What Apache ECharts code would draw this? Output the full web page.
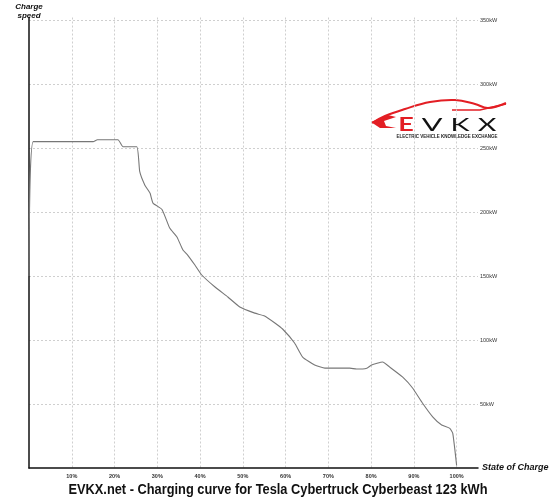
<!DOCTYPE html>
<html>
<head>
<meta charset="utf-8">
<script src="https://cdn.jsdelivr.net/npm/echarts@6/dist/echarts.min.js"></script>
<style>
  html, body { margin: 0; padding: 0; background: #fff; }
  #chart { width: 557px; height: 500px; }
</style>
</head>
<body>
<div id="chart"></div>
<script>
// state of charge (%) and charge power (kW)
var soc = [0, 1, 15, 16, 20.8, 22, 25.2, 25.9, 27.1, 28.3, 29, 31.1, 32.9, 34.6, 36, 37.1,
    38.8, 40.4, 43.5, 46.5, 49.3, 52.8, 55.1, 57.5, 59.3, 62.1, 64, 66.8, 69.2, 75, 76.6,
    79, 80.1, 82.7, 84.3, 87.4, 89.7, 92, 94.4, 96.5, 98.4, 99.1, 100];
var kw = [150, 255, 255, 256.5, 256.5, 251, 251, 231.5, 221, 214.8, 207, 202, 187.5, 180.5, 170.3, 166.4,
    158.6, 150.8, 141.4, 133.6, 125.8, 121, 118.8, 113.3, 108.6, 97.7, 86.7, 80.5, 78, 78, 77.3,
    78, 80.5, 82.8, 79, 71, 62.5, 50.8, 40, 33.6, 31, 27, 2];
var title = "EVKX.net - Charging curve for Tesla Cybertruck Cyberbeast 123 kWh";

var red = "#e31e24";
var font = "Liberation Sans";

var points = [];
for (var i = 0; i < soc.length; i++) {
    points.push([soc[i], kw[i]]);
}

var gridLine = { show: true, showMinLine: false, showMaxLine: false,
    lineStyle: { color: "#cfcfcf", type: [2, 2], width: 1 } };

function letter(ch, x, sx, color) {
    return {
        type: "text", x: x, y: 125, scaleX: sx,
        style: { text: ch, font: "18px Lato", fill: color, textAlign: "center", textVerticalAlign: "middle" }
    };
}

var chart = echarts.init(document.getElementById("chart"));
chart.setOption({
    animation: false,
    grid: { left: 29, right: 79, top: 17.5, bottom: 32 },
    xAxis: {
        type: "value",
        min: 0,
        max: 105,
        interval: 10,
        name: "State of Charge",
        nameLocation: "end",
        nameGap: 4,
        nameTextStyle: { fontFamily: font, fontStyle: "italic", fontWeight: "bold", fontSize: 9, color: "#111", padding: [5, 0, 0, 0] },
        axisLine: { show: true, lineStyle: { color: "#111", width: 1.5 } },
        axisTick: { show: false },
        axisLabel: {
            showMinLabel: false, showMaxLabel: false, margin: 5,
            fontFamily: font, fontSize: 5.5, fontWeight: "bold", color: "#333",
            formatter: function(v) { return v + "%"; }
        },
        splitLine: gridLine
    },
    yAxis: [{
        type: "value",
        min: 0,
        max: 352,
        interval: 50,
        position: "left",
        name: "Charge\nspeed",
        nameLocation: "end",
        nameGap: -3,
        nameTextStyle: { fontFamily: font, fontStyle: "italic", fontWeight: "bold", fontSize: 8, lineHeight: 9, color: "#111", align: "center" },
        axisLine: { show: true, onZero: false, lineStyle: { color: "#111", width: 1.5 } },
        axisTick: { show: false },
        axisLabel: { show: false },
        splitLine: gridLine
    }, {
        type: "value",
        min: 0,
        max: 352,
        interval: 50,
        position: "right",
        axisLine: { show: false },
        axisTick: { show: false },
        axisLabel: {
            showMinLabel: false, showMaxLabel: false, margin: 2,
            fontFamily: font, fontSize: 5.5, color: "#333",
            formatter: function(v) { return v + "kW"; }
        },
        splitLine: { show: false }
    }],
    series: [{
        type: "line",
        data: points,
        showSymbol: false,
        smooth: 0.15,
        lineStyle: { color: "#777", width: 1.1 },
        z: 3
    }],
    graphic: [
        {
            type: "text", x: 278, y: 490, scaleX: 0.915,
            style: { text: title, font: "bold 14px '" + font + "'", fill: "#111",
                textAlign: "center", textVerticalAlign: "middle" }
        },
        // logo
        {
            type: "polyline", shape: { points: [[372, 123], [385, 116], [405, 109], [430, 102], [455, 100], [475, 104], [488, 108], [506, 103]], smooth: 0.4 },
            style: { stroke: red, lineWidth: 2, fill: null }
        },
        {
            type: "polyline", shape: { points: [[452, 110], [480, 110], [506, 104]] },
            style: { stroke: red, lineWidth: 1.3, fill: null }
        },
        {
            type: "polygon", shape: { points: [[371, 122], [388, 115], [396, 117], [384, 121], [386, 126], [396, 128], [380, 128]] },
            style: { fill: red }
        },
        {
            type: "text", x: 406, y: 125, scaleX: 1.5,
            style: { text: "E", font: "bold 18px Lato", fill: red, textAlign: "center", textVerticalAlign: "middle" }
        },
        letter("V", 432, 1.7, "#111"),
        letter("K", 460, 1.6, "#111"),
        letter("X", 487, 1.6, "#111"),
        {
            type: "text", x: 447, y: 137,
            style: { text: "ELECTRIC VEHICLE KNOWLEDGE EXCHANGE", font: "bold 4.5px '" + font + "'", fill: "#222",
                textAlign: "center", textVerticalAlign: "middle" }
        }
    ]
});
</script>
</body>
</html>
